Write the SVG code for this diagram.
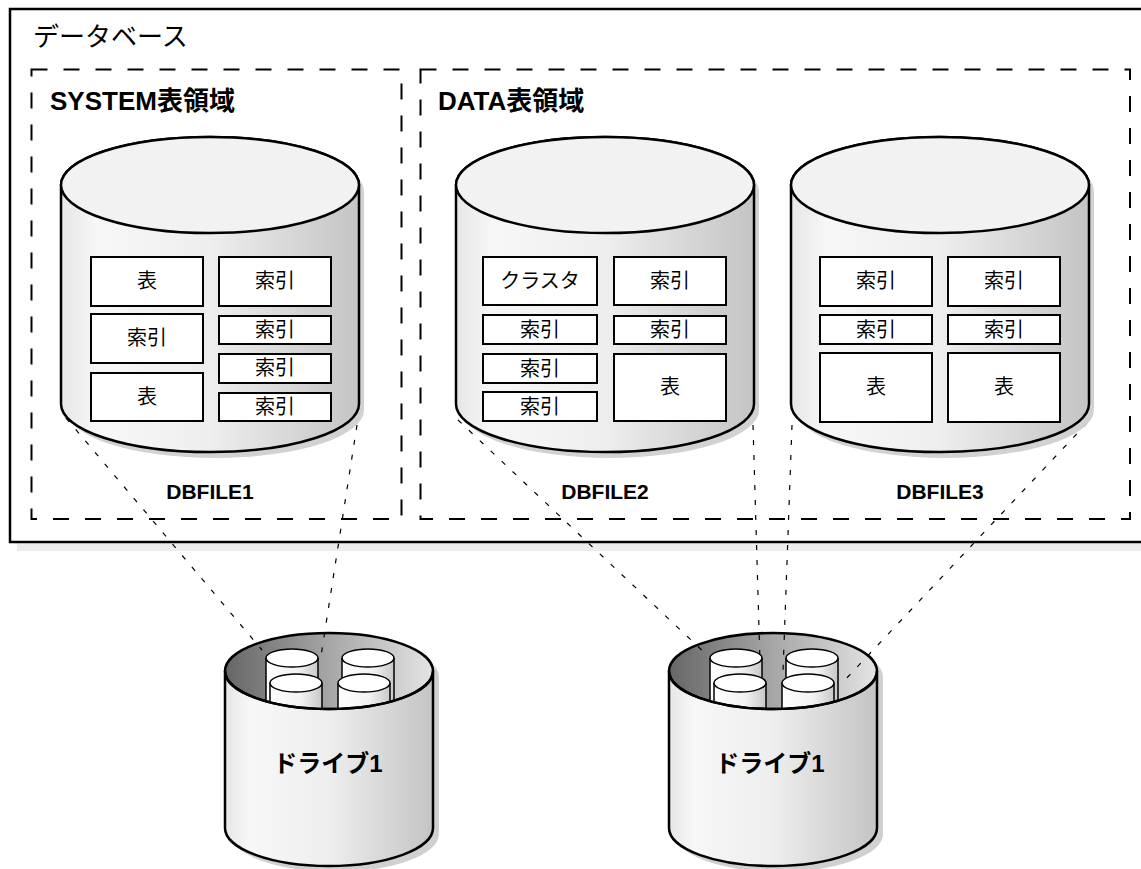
<svg xmlns="http://www.w3.org/2000/svg" xmlns:xlink="http://www.w3.org/1999/xlink" width="1141" height="869" viewBox="0 0 1141 869">
  <style>
    text { font-family: "Liberation Sans", "Noto Sans CJK JP", sans-serif; fill: #000; }
    .title { font-size: 26px; }
    .ts { font-size: 26px; font-weight: bold; }
    .file { font-size: 21px; font-weight: bold; text-anchor: middle; }
    .cell { fill: #fff; stroke: #000; stroke-width: 2; }
    .lbl { font-size: 20px; text-anchor: middle; }
    .drv { font-size: 24px; font-weight: bold; text-anchor: middle; }
    .ts-box { fill: none; stroke: #000; stroke-width: 2; stroke-dasharray: 16 16; }
    .link { fill: none; stroke: #000; stroke-width: 1.2; stroke-dasharray: 5 10; }
  </style>
  <defs>
    <linearGradient id="gSide" x1="0" y1="0" x2="1" y2="0">
      <stop offset="0" stop-color="#e6e6e6"/>
      <stop offset="0.12" stop-color="#f7f7f7"/>
      <stop offset="0.5" stop-color="#eeeeee"/>
      <stop offset="1" stop-color="#c4c4c4"/>
    </linearGradient>
    <linearGradient id="gWell" x1="0" y1="0" x2="1" y2="0">
      <stop offset="0" stop-color="#666666"/>
      <stop offset="0.5" stop-color="#a6a6a6"/>
      <stop offset="1" stop-color="#e4e4e4"/>
    </linearGradient>
    <linearGradient id="gMini" x1="0" y1="0" x2="1" y2="0">
      <stop offset="0" stop-color="#ffffff"/>
      <stop offset="0.6" stop-color="#f2f2f2"/>
      <stop offset="1" stop-color="#c8c8c8"/>
    </linearGradient>

    <!-- data file cylinder, origin at centre of the top face -->
    <g id="dbcyl">
      <path d="M-149,0 A149 48 0 0 1 149,0 L149,219 A149 48 0 0 1 -149,219 Z" transform="translate(5,6)" fill="#d2d2d2"/>
      <path d="M-149,0 A149 48 0 0 1 149,0 L149,219 A149 48 0 0 1 -149,219 Z" fill="url(#gSide)" stroke="#000" stroke-width="2.5"/>
      <ellipse cx="0" cy="0" rx="149" ry="48" fill="#f2f2f2" stroke="#000" stroke-width="2.5"/>
    </g>

    <!-- open drive: back part (shadow and inner well) -->
    <g id="drivewell">
      <path d="M-104,0 A104 38 0 0 1 104,0 L104,157 A104 38 0 0 1 -104,157 Z" transform="translate(6,6)" fill="#d0d0d0"/>
      <ellipse cx="0" cy="0" rx="104" ry="38" fill="url(#gWell)"/>
    </g>

    <!-- small disk inside a drive -->
    <g id="mini">
      <path d="M-26,0 L-26,60 L26,60 L26,0" fill="url(#gMini)" stroke="#000" stroke-width="1.5"/>
      <ellipse cx="0" cy="0" rx="26" ry="9" fill="#fff" stroke="#000" stroke-width="1.5"/>
    </g>

    <!-- open drive: disks, front wall and rim -->
    <g id="drivefront">
      <use xlink:href="#mini" x="-37" y="-13"/>
      <use xlink:href="#mini" x="39" y="-13"/>
      <use xlink:href="#mini" x="-33" y="12"/>
      <use xlink:href="#mini" x="35" y="12"/>
      <path d="M-104,0 A104 38 0 0 0 104,0 L104,157 A104 38 0 0 1 -104,157 Z" fill="url(#gSide)" stroke="#000" stroke-width="2.5"/>
      <ellipse cx="0" cy="0" rx="104" ry="38" fill="none" stroke="#000" stroke-width="2.5"/>
    </g>
  </defs>

  <rect width="1141" height="869" fill="#fff"/>

  <!-- database frame -->
  <g id="database">
    <rect x="17" y="17" width="1140" height="534" fill="#ececec"/>
    <rect x="10" y="9" width="1140" height="533" fill="#fff" stroke="#000" stroke-width="2.5"/>
    <text class="title" x="33" y="46">データベース</text>
  </g>

  <!-- tablespaces -->
  <g id="ts-system">
    <rect class="ts-box" x="31.5" y="69.5" width="370" height="449.5"/>
    <text class="ts" x="50" y="110">SYSTEM表領域</text>
  </g>
  <g id="ts-data">
    <rect class="ts-box" x="420.5" y="69.5" width="709.5" height="449.5"/>
    <text class="ts" x="438" y="110">DATA表領域</text>
  </g>

  <!-- drive wells (behind the connectors) -->
  <g id="drive1-well"><use xlink:href="#drivewell" x="329" y="671"/></g>
  <g id="drive2-well"><use xlink:href="#drivewell" x="773" y="671"/></g>

  <!-- file to drive connectors -->
  <g id="connectors">
    <line class="link" x1="66" y1="418" x2="262" y2="650"/>
    <line class="link" x1="357" y1="425" x2="321" y2="656"/>
    <line class="link" x1="458" y1="420" x2="708" y2="656"/>
    <line class="link" x1="753" y1="425" x2="760" y2="662"/>
    <line class="link" x1="792" y1="425" x2="783" y2="672"/>
    <line class="link" x1="1087" y1="423" x2="843" y2="682"/>
  </g>

  <!-- DBFILE1 -->
  <g id="dbfile1">
    <use xlink:href="#dbcyl" x="210" y="185"/>
    <rect class="cell" x="91" y="257" width="112" height="49"/>
    <text class="lbl" x="147" y="288">表</text>
    <rect class="cell" x="91" y="314" width="112" height="49"/>
    <text class="lbl" x="147" y="345">索引</text>
    <rect class="cell" x="91" y="373" width="112" height="48"/>
    <text class="lbl" x="147" y="404">表</text>
    <rect class="cell" x="219" y="257" width="112" height="49"/>
    <text class="lbl" x="275" y="288">索引</text>
    <rect class="cell" x="219" y="316" width="112" height="28"/>
    <text class="lbl" x="275" y="337">索引</text>
    <rect class="cell" x="219" y="354" width="112" height="29"/>
    <text class="lbl" x="275" y="375">索引</text>
    <rect class="cell" x="219" y="393" width="112" height="28"/>
    <text class="lbl" x="275" y="414">索引</text>
    <text class="file" x="210" y="499">DBFILE1</text>
  </g>

  <!-- DBFILE2 -->
  <g id="dbfile2">
    <use xlink:href="#dbcyl" x="605" y="185"/>
    <rect class="cell" x="483" y="257" width="114" height="48"/>
    <text class="lbl" x="540" y="288">クラスタ</text>
    <rect class="cell" x="483" y="315" width="114" height="29"/>
    <text class="lbl" x="540" y="337">索引</text>
    <rect class="cell" x="483" y="354" width="114" height="29"/>
    <text class="lbl" x="540" y="376">索引</text>
    <rect class="cell" x="483" y="392" width="114" height="29"/>
    <text class="lbl" x="540" y="414">索引</text>
    <rect class="cell" x="614" y="257" width="112" height="48"/>
    <text class="lbl" x="670" y="288">索引</text>
    <rect class="cell" x="614" y="316" width="112" height="28"/>
    <text class="lbl" x="670" y="337">索引</text>
    <rect class="cell" x="614" y="354" width="112" height="67"/>
    <text class="lbl" x="670" y="394">表</text>
    <text class="file" x="605" y="499">DBFILE2</text>
  </g>

  <!-- DBFILE3 -->
  <g id="dbfile3">
    <use xlink:href="#dbcyl" x="940" y="185"/>
    <rect class="cell" x="820" y="257" width="112" height="49"/>
    <text class="lbl" x="876" y="288">索引</text>
    <rect class="cell" x="820" y="315" width="112" height="29"/>
    <text class="lbl" x="876" y="337">索引</text>
    <rect class="cell" x="820" y="353" width="112" height="69"/>
    <text class="lbl" x="876" y="394">表</text>
    <rect class="cell" x="948" y="257" width="112" height="49"/>
    <text class="lbl" x="1004" y="288">索引</text>
    <rect class="cell" x="948" y="315" width="112" height="29"/>
    <text class="lbl" x="1004" y="337">索引</text>
    <rect class="cell" x="948" y="353" width="112" height="69"/>
    <text class="lbl" x="1004" y="394">表</text>
    <text class="file" x="940" y="499">DBFILE3</text>
  </g>

  <!-- drives -->
  <g id="drive1">
    <use xlink:href="#drivefront" x="329" y="671"/>
    <text class="drv" x="328" y="772">ドライブ1</text>
  </g>
  <g id="drive2">
    <use xlink:href="#drivefront" x="773" y="671"/>
    <text class="drv" x="770" y="772">ドライブ1</text>
  </g>
</svg>
